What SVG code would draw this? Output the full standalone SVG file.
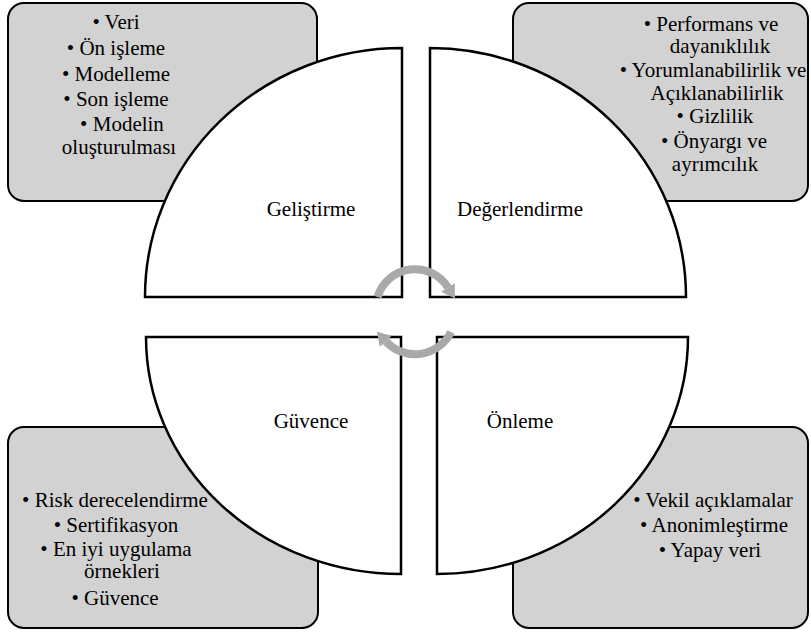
<svg xmlns="http://www.w3.org/2000/svg" width="811" height="635" viewBox="0 0 811 635">
<style>
.box{fill:#d2d2d2;stroke:#000;stroke-width:2}
.quad{fill:#fff;stroke:#000;stroke-width:2.5}
.t text{font-family:'Liberation Serif','DejaVu Serif',serif;font-size:21px;fill:#000;text-anchor:middle}
.arc{fill:none;stroke:#a9a9a9;stroke-width:8}
.head{fill:#a9a9a9}
</style>
<rect width="811" height="635" fill="#fff"/>
<g class="t" font-family="Liberation Serif, DejaVu Serif, serif">
<g id="box-gelistirme">
<rect class="box" x="8" y="3" width="309" height="198" rx="16"/>
<text x="116" y="29">• Veri</text>
<text x="116" y="55">• Ön işleme</text>
<text x="116" y="81">• Modelleme</text>
<text x="116" y="106">• Son işleme</text>
<text x="122" y="131">• Modelin</text>
<text x="119" y="154">oluşturulması</text>
</g>
<g id="box-degerlendirme">
<rect class="box" x="513" y="3" width="295" height="198" rx="16"/>
<text x="711" y="31">• Performans ve</text>
<text x="720" y="53">dayanıklılık</text>
<text x="713" y="77">• Yorumlanabilirlik ve</text>
<text x="717" y="100">Açıklanabilirlik</text>
<text x="715" y="123">• Gizlilik</text>
<text x="714" y="148">• Önyargı ve</text>
<text x="715" y="171">ayrımcılık</text>
</g>
<g id="box-guvence">
<rect class="box" x="8" y="427" width="310" height="201" rx="16"/>
<text x="115" y="507">• Risk derecelendirme</text>
<text x="116" y="532">• Sertifikasyon</text>
<text x="116" y="556">• En iyi uygulama</text>
<text x="122" y="578">örnekleri</text>
<text x="115" y="605">• Güvence</text>
</g>
<g id="box-onleme">
<rect class="box" x="513" y="427" width="295" height="201" rx="16"/>
<text x="713" y="507">• Vekil açıklamalar</text>
<text x="714" y="532">• Anonimleştirme</text>
<text x="710" y="557">• Yapay veri</text>
</g>
<g id="q-gelistirme">
<path class="quad" d="M402 297 L145 297 A257 249 0 0 1 402 48 Z"/>
<text x="311" y="216">Geliştirme</text>
</g>
<g id="q-degerlendirme">
<path class="quad" d="M430 297 L430 48 A256 249 0 0 1 686 297 Z"/>
<text x="520" y="216">Değerlendirme</text>
</g>
<g id="q-guvence">
<path class="quad" d="M401 337 L401 574 A255 237 0 0 1 146 337 Z"/>
<text x="311" y="428">Güvence</text>
</g>
<g id="q-onleme">
<path class="quad" d="M437 337 L688 337 A251 237 0 0 1 437 574 Z"/>
<text x="520" y="428">Önleme</text>
</g>
</g>
<g id="connectors">
<path class="arc" d="M377.6 297 A39 39 0 0 1 448 287.5"/>
<polygon class="head" points="454.8,283.3 441.2,291.7 454.9,298.5"/>
<path class="arc" d="M451 332 A40 40 0 0 1 385.7 341.3"/>
<polygon class="head" points="379.9,346.8 391.6,335.8 376.8,331.8"/>
</g>
</svg>
